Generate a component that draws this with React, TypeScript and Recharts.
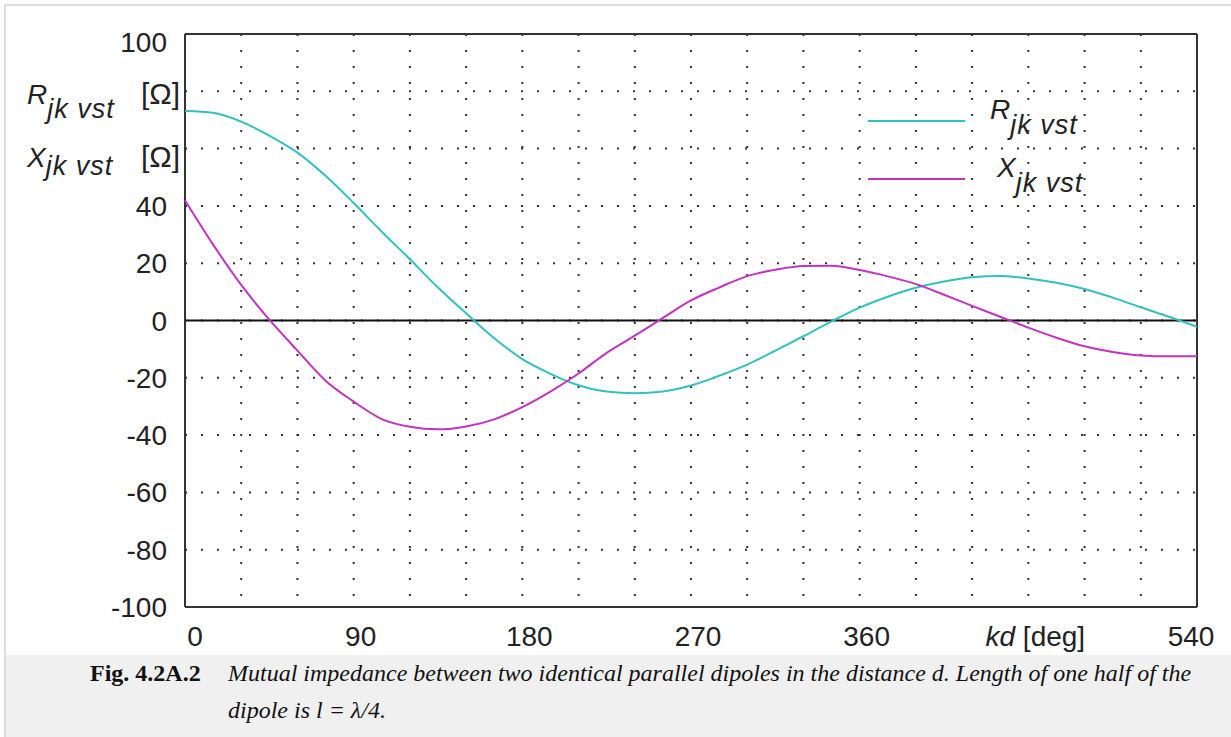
import React from 'react';
import { CartesianGrid, Line, LineChart, ReferenceLine, XAxis, YAxis } from 'recharts';

// kd in degrees, step 15
const kdDeg = [
  0, 15, 30, 45, 60, 75, 90, 105, 120, 135, 150, 165, 180, 195, 210, 225, 240, 255, 270,
  285, 300, 315, 330, 345, 360, 375, 390, 405, 420, 435, 450, 465, 480, 495, 510, 525, 540,
];

// mutual resistance R_jk vst [Ohm]
const rValues = [
  73.1, 72.5, 69.4, 64.5, 58.6, 50.5, 41, 31, 21.4, 11.5, 2.5, -6.2, -13.5, -18.6, -22.6,
  -24.8, -25.4, -24.8, -22.7, -19.3, -15.4, -10.5, -5.5, -0.3, 4.5, 8.3, 11.4, 13.6, 15.1,
  15.5, 14.7, 13.2, 11, 8, 4.6, 1.3, -2.2,
];

// mutual reactance X_jk vst [Ohm]
const xValues = [
  42, 26.5, 12.4, 0.3, -10.5, -21, -28.3, -34.4, -37.1, -38, -37, -34.5, -30.2, -24.8, -18.5,
  -11.3, -5.3, 0.9, 7, 11.5, 15.5, 17.7, 19, 19.1, 17.6, 15.4, 12.7, 9, 5.1, 1.3, -2.5, -6,
  -9, -11, -12.2, -12.5, -12.5,
];

const xTicks = [0, 30, 60, 90, 120, 150, 180, 210, 240, 270, 300, 330, 360, 390, 420, 450, 480, 510, 540];
const xTickLabels: Record<number, string> = { 0: '0', 90: '90', 180: '180', 270: '270', 360: '360', 540: '540' };
const yTicks = [-100, -80, -60, -40, -20, 0, 20, 40, 60, 80, 100];

const series = [
  { key: 'r', sym: 'R', color: '#33c0c0' },
  { key: 'x', sym: 'X', color: '#c233c2' },
];

const data = kdDeg.map((kd, i) => ({ kd, r: rValues[i], x: xValues[i] }));

const sans = '"Liberation Sans", Arial, sans-serif';

const XTick = (props: any) => {
  const { x, y, payload } = props;
  const v = payload.value;
  if (v === 450) {
    return (
      <text x={x + 7} y={y + 31} textAnchor="middle" fontSize={28} fontFamily={sans} fill="#222">
        <tspan fontStyle="italic">kd</tspan> [deg]
      </text>
    );
  }
  const label = xTickLabels[v];
  if (!label) return null;
  const dx = v === 0 ? 10 : v === 540 ? -6 : 7;
  return (
    <text x={x + dx} y={y + 31} textAnchor="middle" fontSize={28} fontFamily={sans} fill="#222">
      {label}
    </text>
  );
};

const YTick = (props: any) => {
  const { x, y, payload } = props;
  const v = payload.value;
  if (v === 80 || v === 60) {
    const sym = v === 80 ? 'R' : 'X';
    const base = v === 80 ? y + 13 : y + 18;
    return (
      <g fontFamily={sans} fill="#222">
        <text x={x - 150} y={base} fontSize={28} fontStyle="italic">
          {sym}
          <tspan fontSize={27} dy={v === 80 ? 14 : 8} letterSpacing={1}>jk vst</tspan>
        </text>
        <text x={x + 3} y={base} textAnchor="end" fontSize={30}>[Ω]</text>
      </g>
    );
  }
  return (
    <text x={x - 10} y={v === 100 ? y + 18 : y + 10} textAnchor="end" fontSize={28} fontFamily={sans} fill="#222">
      {v}
    </text>
  );
};

// legend drawn over the plot, right of centre
const LegendOverlay = () => (
  <svg width={270} height={140} style={{ position: 'absolute', left: 850, top: 80 }}>
    {series.map((s, i) => {
      const ly = 41 + i * 58;
      return (
        <g key={s.key} fontFamily={sans} fill="#222">
          <line x1={18} x2={115} y1={ly} y2={ly} stroke={s.color} strokeWidth={2} />
          <text x={i === 0 ? 140 : 147} y={ly - 2} fontSize={28} fontStyle="italic">
            {s.sym}
            <tspan fontSize={27} dy={15} letterSpacing={1}>jk vst</tspan>
          </text>
        </g>
      );
    })}
  </svg>
);

export default function App() {
  return (
    <div style={{ position: 'absolute', left: 0, top: 0, width: 1231, height: 737, background: '#fff', overflow: 'hidden' }}>
      <div
        style={{
          position: 'absolute',
          left: 4,
          top: 4,
          width: 1240,
          height: 740,
          borderLeft: '2px solid #dcdcdc',
          borderTop: '2px solid #dcdcdc',
        }}
      />
      <div
        style={{
          position: 'absolute',
          left: 6,
          top: 655,
          width: 1230,
          height: 90,
          background: '#f0f0f0',
          fontFamily: '"Liberation Serif", "Times New Roman", serif',
          fontSize: 24,
          color: '#111',
        }}
      >
        <div style={{ position: 'absolute', left: 84, top: 5, fontWeight: 'bold', whiteSpace: 'nowrap' }}>Fig. 4.2A.2</div>
        <div style={{ position: 'absolute', left: 222, top: 0, fontStyle: 'italic', whiteSpace: 'nowrap', lineHeight: '37px' }}>
          Mutual impedance between two identical parallel dipoles in the distance d. Length of one half of the
          <br />
          dipole is l = λ/4.
        </div>
      </div>
      <div style={{ position: 'absolute', left: 0, top: 0 }}>
        <LineChart width={1231} height={664} data={data} margin={{ top: 34, right: 34, left: 125, bottom: 27 }}>
          <CartesianGrid stroke="#333" strokeWidth={2} strokeDasharray="2 14" />
          <XAxis
            dataKey="kd"
            type="number"
            domain={[0, 540]}
            ticks={xTicks}
            axisLine={false}
            tickLine={false}
            tick={<XTick />}
            interval={0}
            height={30}
          />
          <YAxis
            type="number"
            domain={[-100, 100]}
            ticks={yTicks}
            axisLine={false}
            tickLine={false}
            tick={<YTick />}
            interval={0}
            width={60}
          />
          <ReferenceLine y={0} stroke="#111" strokeWidth={2} />
          <ReferenceLine x={0} stroke="#333" strokeWidth={2} />
          <ReferenceLine x={540} stroke="#333" strokeWidth={2} />
          <ReferenceLine y={100} stroke="#333" strokeWidth={2} />
          <ReferenceLine y={-100} stroke="#333" strokeWidth={2} />
          {series.map((s) => (
            <Line
              key={s.key}
              dataKey={s.key}
              type="monotone"
              stroke={s.color}
              strokeWidth={2}
              dot={false}
              isAnimationActive={false}
            />
          ))}
        </LineChart>
      </div>
      <LegendOverlay />
    </div>
  );
}
